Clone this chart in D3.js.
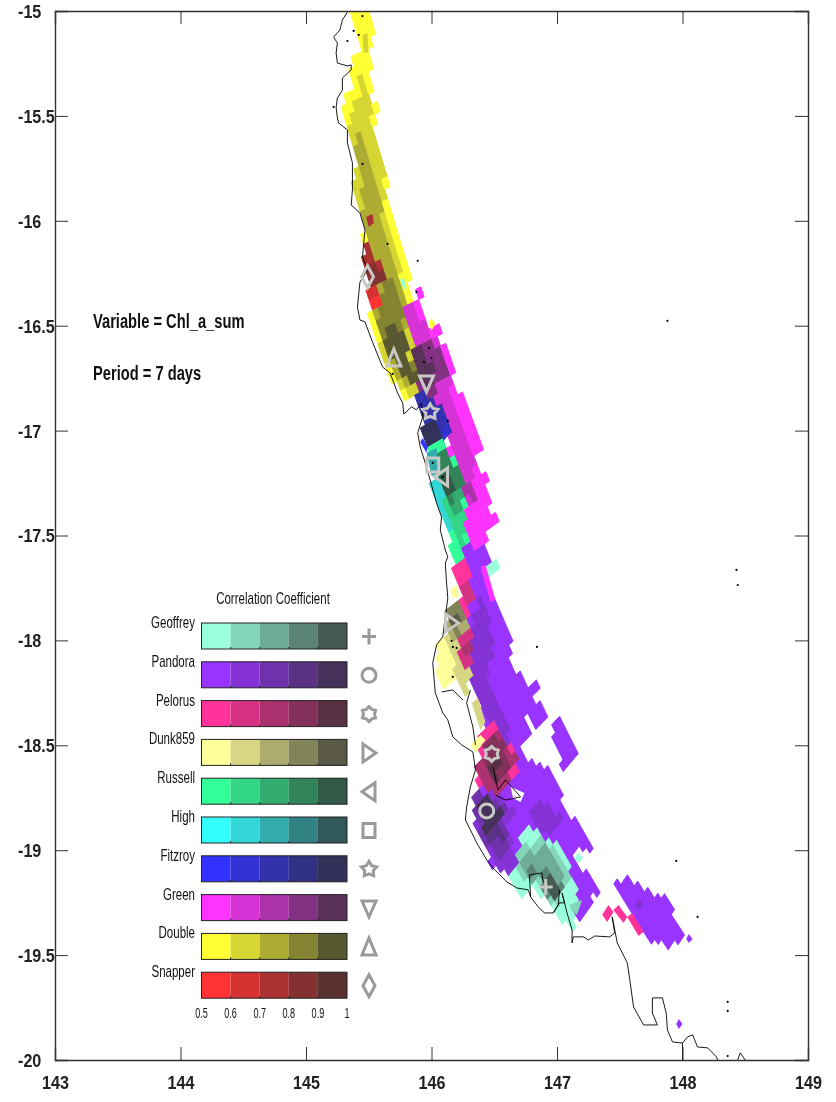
<!DOCTYPE html>
<html>
<head>
<meta charset="utf-8">
<style>
body { margin: 0; background: white; }
svg { display: block; filter: blur(0.35px); }
text { font-family: "Liberation Sans", Arial, sans-serif; fill: #111; }
</style>
<script src="https://d3js.org/d3.v7.min.js"></script>
</head>
<body>
<svg id="chart" width="836" height="1102"></svg>
<script>
var lonTicks = [143, 144, 145, 146, 147, 148, 149];
var latTicks = [-15, -15.5, -16, -16.5, -17, -17.5, -18, -18.5, -19, -19.5, -20];
var corrTicks = [0.5, 0.6, 0.7, 0.8, 0.9, 1];
var corrBins = [0.55, 0.65, 0.75, 0.85, 0.95];
var stations = ["Geoffrey", "Pandora", "Pelorus", "Dunk859", "Russell", "High", "Fitzroy", "Green", "Double", "Snapper"];
var stationColors = ["#99ffdd", "#9933ff", "#ff3399", "#ffff99", "#33ff99", "#33ffff", "#3333ff", "#ff33ff", "#ffff33", "#ff3333"];
var stationSymbols = ["plus", "circle", "gear", "right", "left", "square", "star", "down", "up", "diamond"];
var stationLons = [146.91, 146.44, 146.48, 146.16, 146.08, 146.01, 145.99, 145.96, 145.70, 145.49];
var stationLats = [-19.175, -18.813, -18.541, -17.917, -17.221, -17.164, -16.911, -16.773, -16.654, -16.267];

// model grid: size of one cell in degrees, by latitude
var gridLats = [-15, -16, -17, -18, -18.6, -19.2, -20];
var acrossLon = [0.0438, 0.0438, 0.0398, 0.0335, 0.0279, 0.0259, 0.0259];
var acrossLat = [0.0119, 0.0119, 0.0143, 0.0191, 0.0229, 0.0238, 0.0238];
var alongLon = [0.0239, 0.0239, 0.0279, 0.0279, 0.0263, 0.0259, 0.0259];
var alongLat = [-0.0477, -0.0477, -0.0453, -0.0381, -0.0286, -0.0238, -0.0238];

// each patch is [correlation, [[lon, lat], ...]], lowest correlation first
// patches of more than 4 points are snapped to the model grid
var doublePatches = [
  [0.55, [[145.37,-14.95],[145.49,-14.95],[145.54,-15.172],[145.49,-15.196],[145.53,-15.281],[145.49,-15.305],[145.53,-15.377],[145.49,-15.400],[145.51,-15.438],[145.55,-15.434],[145.58,-15.510],[145.53,-15.529],[145.57,-15.615],[145.58,-15.620],[145.63,-15.724],[145.61,-15.743],[145.68,-15.843],[145.63,-15.867],[145.67,-15.910],[145.84,-16.281],[145.80,-16.319],[145.85,-16.391],[145.81,-16.415],[145.91,-16.816],[145.81,-16.863],[145.75,-16.821],[145.61,-16.678],[145.51,-16.473],[145.47,-16.186],[145.45,-15.901],[145.37,-15.758],[145.41,-15.696],[145.35,-15.553],[145.31,-15.472],[145.36,-15.453],[145.33,-15.410],[145.39,-15.391],[145.34,-15.295],[145.38,-15.272],[145.37,-15.234],[145.45,-15.200],[145.40,-15.091]]],
  [0.65, [[145.45,-15.114],[145.49,-15.105],[145.50,-15.196],[145.46,-15.200]]],
  [0.65, [[145.41,-15.329],[145.45,-15.315],[145.50,-15.424],[145.53,-15.529],[145.57,-15.624],[145.60,-15.710],[145.63,-15.724],[145.61,-15.758],[145.65,-15.863],[145.61,-15.910],[145.65,-15.972],[145.76,-16.220],[145.70,-16.258],[145.79,-16.353],[145.83,-16.520],[145.87,-16.601],[145.84,-16.639],[145.94,-16.782],[145.86,-16.844],[145.81,-16.825],[145.71,-16.744],[145.65,-16.687],[145.56,-16.520],[145.54,-16.473],[145.53,-16.281],[145.49,-16.091],[145.44,-15.982],[145.37,-15.758],[145.41,-15.696],[145.35,-15.553],[145.37,-15.496],[145.40,-15.434],[145.45,-15.424]]],
  [0.75, [[145.41,-15.581],[145.45,-15.572],[145.50,-15.686],[145.57,-15.705],[145.53,-15.724],[145.56,-15.791],[145.61,-15.910],[145.63,-15.948],[145.59,-15.981],[145.72,-16.220],[145.73,-16.281],[145.79,-16.391],[145.81,-16.534],[145.84,-16.606],[145.81,-16.630],[145.87,-16.773],[145.81,-16.792],[145.73,-16.744],[145.67,-16.630],[145.61,-16.534],[145.56,-16.434],[145.53,-16.377],[145.47,-16.058],[145.44,-15.891],[145.45,-15.839],[145.42,-15.743],[145.40,-15.696]]],
  [0.85, [[145.61,-16.329],[145.67,-16.272],[145.71,-16.329],[145.79,-16.462],[145.75,-16.505],[145.78,-16.543],[145.81,-16.630],[145.91,-16.759],[145.85,-16.783],[145.81,-16.759],[145.75,-16.725],[145.67,-16.649],[145.61,-16.558],[145.56,-16.411],[145.57,-16.368]]],
  [0.95, [[145.63,-16.558],[145.69,-16.486],[145.79,-16.534],[145.84,-16.615],[145.81,-16.649],[145.91,-16.759],[145.87,-16.783],[145.81,-16.744],[145.73,-16.711],[145.67,-16.630]]]
];
var snapperPatches = [
  [0.55, [[145.50,-16.329],[145.56,-16.329],[145.60,-16.415],[145.55,-16.444],[145.51,-16.377]]],
  [0.65, [[145.49,-16.272],[145.59,-16.305],[145.61,-16.353],[145.55,-16.386],[145.51,-16.353]]],
  [0.75, [[145.48,-15.981],[145.53,-15.967],[145.54,-16.010],[145.50,-16.029]]],
  [0.75, [[145.48,-16.081],[145.51,-16.077],[145.55,-16.153],[145.64,-16.281],[145.57,-16.315],[145.49,-16.305],[145.45,-16.172]]],
  [0.85, [[145.49,-16.200],[145.53,-16.186],[145.63,-16.272],[145.59,-16.320],[145.51,-16.320]]]
];
var greenPatches = [
  [0.55, [[145.91,-16.315],[145.93,-16.339],[145.91,-16.377],[145.97,-16.482],[146.00,-16.520],[146.07,-16.505],[146.09,-16.534],[146.07,-16.558],[146.09,-16.601],[146.13,-16.587],[146.18,-16.697],[146.15,-16.720],[146.20,-16.840],[146.25,-16.821],[146.40,-17.102],[146.36,-17.130],[146.39,-17.188],[146.45,-17.197],[146.47,-17.226],[146.44,-17.250],[146.47,-17.321],[146.44,-17.345],[146.47,-17.388],[146.52,-17.412],[146.44,-17.488],[146.45,-17.545],[146.31,-17.578],[146.25,-17.412],[146.12,-17.030],[145.99,-16.830],[145.91,-16.792],[145.84,-16.649],[145.87,-16.592],[145.81,-16.506],[145.76,-16.434],[145.84,-16.391]]],
  [0.65, [[145.77,-16.411],[145.84,-16.386],[145.92,-16.458],[145.99,-16.558],[146.08,-16.591],[146.13,-16.697],[146.18,-16.844],[146.20,-16.868],[146.28,-17.030],[146.33,-17.140],[146.36,-17.330],[146.32,-17.354],[146.23,-17.249],[146.19,-17.125],[146.12,-17.030],[146.03,-16.854],[145.87,-16.592],[145.81,-16.506]]],
  [0.75, [[145.84,-16.592],[145.91,-16.582],[145.95,-16.625],[145.90,-16.640],[145.86,-16.654]]],
  [0.75, [[146.23,-17.235],[146.35,-17.269],[146.36,-17.330],[146.34,-17.342],[146.32,-17.354]]],
  [0.85, [[145.91,-16.591],[145.97,-16.568],[146.07,-16.591],[146.12,-16.673],[146.15,-16.711],[146.07,-16.768],[145.99,-16.844],[145.91,-16.797],[145.86,-16.673]]],
  [0.95, [[145.84,-16.639],[145.93,-16.615],[146.03,-16.697],[146.00,-16.759],[145.95,-16.797],[145.91,-16.783]]]
];
var fitzroyPatches = [
  [0.55, [[145.91,-17.054],[145.93,-17.035],[145.97,-17.078],[145.96,-17.106]]],
  [0.75, [[145.88,-16.816],[145.92,-16.792],[145.99,-16.844],[146.07,-16.887],[146.15,-17.011],[146.03,-17.092],[145.97,-17.059],[145.93,-17.011],[145.95,-16.982],[145.93,-16.916],[145.89,-16.863]]],
  [0.65, [[146.09,-16.916],[146.15,-17.011],[146.09,-17.054],[146.11,-16.968]]],
  [0.95, [[145.93,-17.011],[145.99,-16.949],[146.07,-16.963],[146.10,-17.030],[146.01,-17.059],[145.96,-17.054]]]
];
var russellPatches = [
  [0.55, [[145.97,-17.078],[146.12,-17.054],[146.16,-17.125],[146.21,-17.106],[146.29,-17.364],[146.26,-17.392],[146.31,-17.545],[146.19,-17.626],[146.16,-17.545],[146.17,-17.488],[146.07,-17.316],[146.04,-17.221]]],
  [0.65, [[146.09,-17.330],[146.24,-17.330],[146.27,-17.440],[146.24,-17.554],[146.17,-17.483]]],
  [0.75, [[146.12,-17.345],[146.24,-17.283],[146.27,-17.378],[146.20,-17.440],[146.16,-17.378]]],
  [0.85, [[146.04,-17.116],[146.12,-17.059],[146.17,-17.140],[146.25,-17.235],[146.22,-17.283],[146.15,-17.345],[146.07,-17.250],[146.04,-17.188]]],
  [0.95, [[146.08,-17.188],[146.15,-17.202],[146.19,-17.269],[146.12,-17.316],[146.07,-17.235]]]
];
var highPatches = [
  [0.65, [[146.00,-17.216],[146.06,-17.207],[146.17,-17.488],[146.15,-17.507],[146.05,-17.354],[146.00,-17.250]]],
  [0.75, [[145.96,-17.106],[146.04,-17.083],[146.06,-17.207],[146.00,-17.216]]]
];
var pandoraPatches = [
  [0.55, [[146.27,-17.545],[146.31,-17.536],[146.45,-17.583],[146.46,-17.617],[146.39,-17.650],[146.51,-17.807],[146.66,-18.060],[146.62,-18.079],[146.67,-18.165],[146.72,-18.150],[146.77,-18.236],[146.84,-18.188],[146.89,-18.212],[146.80,-18.270],[146.82,-18.298],[146.88,-18.298],[146.92,-18.379],[146.84,-18.427],[146.78,-18.341],[146.73,-18.379],[146.77,-18.436],[146.71,-18.508],[146.74,-18.555],[146.85,-18.584],[147.00,-18.651],[147.05,-18.713],[147.01,-18.746],[147.09,-18.856],[147.16,-18.841],[147.29,-18.984],[147.24,-19.013],[147.18,-18.984],[147.14,-19.037],[147.18,-19.080],[147.28,-19.127],[147.35,-19.189],[147.30,-19.223],[147.28,-19.204],[147.25,-19.223],[147.29,-19.261],[147.17,-19.356],[147.10,-19.275],[147.02,-19.189],[146.82,-19.180],[146.77,-19.175],[146.63,-19.127],[146.57,-19.108],[146.49,-19.080],[146.43,-18.999],[146.35,-18.903],[146.35,-18.870],[146.32,-18.751],[146.43,-18.698],[146.44,-18.417],[146.36,-18.284],[146.33,-18.236],[146.28,-18.188],[146.29,-18.107],[146.30,-17.807],[146.27,-17.617]]],
  [0.55, [[146.96,-18.417],[147.05,-18.370],[147.16,-18.522],[147.10,-18.565],[147.05,-18.603]]],
  [0.55, [[147.45,-19.156],[147.49,-19.132],[147.54,-19.156],[147.56,-19.132],[147.61,-19.165],[147.64,-19.142],[147.70,-19.189],[147.73,-19.175],[147.78,-19.223],[147.80,-19.204],[147.84,-19.237],[147.88,-19.213],[147.94,-19.275],[147.90,-19.299],[148.00,-19.394],[147.98,-19.442],[147.96,-19.428],[147.90,-19.466],[147.84,-19.442],[147.78,-19.428],[147.76,-19.437],[147.69,-19.380],[147.58,-19.299]]],
  [0.55, [[148.03,-19.423],[148.05,-19.399],[148.08,-19.423],[148.05,-19.442]]],
  [0.55, [[147.95,-19.828],[147.97,-19.804],[148.00,-19.828],[147.97,-19.852]]],
  [0.65, [[147.62,-19.261],[147.65,-19.232],[147.69,-19.261],[147.65,-19.285]]],
  [0.65, [[146.32,-17.866],[146.40,-17.807],[146.51,-17.983],[146.48,-18.093],[146.45,-18.179],[146.59,-18.389],[146.68,-18.555],[146.63,-18.594],[146.47,-18.427],[146.37,-18.284],[146.31,-18.188],[146.32,-18.045]]],
  [0.65, [[146.80,-18.822],[146.86,-18.746],[147.04,-18.841],[147.02,-18.903],[146.94,-18.927],[146.88,-18.913]]],
  [0.65, [[146.32,-18.751],[146.39,-18.713],[146.57,-18.746],[146.69,-18.832],[146.60,-18.856],[146.68,-19.032],[146.71,-19.061],[146.64,-19.108],[146.57,-19.094],[146.49,-19.061],[146.35,-18.870]]],
  [0.75, [[146.33,-18.775],[146.39,-18.727],[146.53,-18.760],[146.64,-18.818],[146.57,-18.870],[146.65,-19.008],[146.57,-19.032],[146.44,-18.984],[146.40,-18.937]]],
  [0.85, [[146.41,-18.903],[146.52,-18.870],[146.59,-18.937],[146.54,-18.956],[146.49,-18.975]]],
  [0.95, [[146.36,-18.775],[146.41,-18.737],[146.49,-18.760],[146.59,-18.832],[146.52,-18.903],[146.43,-18.903]]]
];
var dunkPatches = [
  [0.55, [[146.15,-17.760],[146.20,-17.736],[146.22,-17.793],[146.17,-17.798]]],
  [0.55, [[146.07,-17.998],[146.12,-17.983],[146.16,-18.045],[146.20,-18.126],[146.21,-18.188],[146.16,-18.179],[146.09,-18.227],[146.05,-18.141]]],
  [0.55, [[146.31,-18.498],[146.39,-18.451],[146.43,-18.475],[146.35,-18.536]]],
  [0.65, [[146.12,-17.988],[146.20,-17.998],[146.24,-18.079],[146.31,-18.131],[146.31,-18.174],[146.27,-18.203],[146.33,-18.236],[146.25,-18.270],[146.21,-18.188],[146.17,-18.107]]],
  [0.65, [[146.32,-18.298],[146.37,-18.274],[146.43,-18.389],[146.39,-18.427]]],
  [0.75, [[146.13,-17.841],[146.20,-17.783],[146.30,-17.955],[146.24,-17.988],[146.17,-17.998],[146.13,-17.950]]],
  [0.85, [[146.14,-17.864],[146.21,-17.817],[146.27,-17.902],[146.21,-17.983],[146.16,-17.964]]],
  [0.95, [[146.16,-17.855],[146.21,-17.869],[146.24,-17.912],[146.19,-17.950],[146.15,-17.926]]]
];
var pelorusPatches = [
  [0.55, [[146.20,-17.631],[146.29,-17.593],[146.35,-17.793],[146.31,-17.821],[146.32,-17.893],[146.29,-17.902],[146.21,-17.745],[146.18,-17.688]]],
  [0.65, [[146.24,-17.745],[146.29,-17.726],[146.34,-17.793],[146.31,-17.831],[146.29,-17.807]]],
  [0.65, [[146.24,-17.990],[146.32,-17.959],[146.35,-18.045],[146.31,-18.079],[146.33,-18.122],[146.28,-18.127],[146.24,-18.103],[146.20,-18.069]]],
  [0.75, [[146.26,-18.000],[146.32,-17.969],[146.35,-18.026],[146.28,-18.065],[146.24,-18.026]]],
  [0.55, [[146.40,-18.427],[146.48,-18.393],[146.55,-18.413],[146.59,-18.460],[146.69,-18.570],[146.67,-18.656],[146.56,-18.746],[146.47,-18.727],[146.35,-18.703],[146.35,-18.641],[146.37,-18.570],[146.40,-18.522]]],
  [0.75, [[146.37,-18.603],[146.48,-18.451],[146.55,-18.427],[146.69,-18.570],[146.65,-18.617],[146.56,-18.727],[146.44,-18.727],[146.39,-18.689]]],
  [0.85, [[146.41,-18.489],[146.55,-18.460],[146.64,-18.594],[146.56,-18.679],[146.51,-18.665],[146.41,-18.594]]],
  [0.95, [[146.43,-18.584],[146.51,-18.536],[146.57,-18.603],[146.54,-18.640],[146.52,-18.665]]],
  [0.55, [[147.36,-19.308],[147.41,-19.261],[147.45,-19.294],[147.40,-19.342]]],
  [0.55, [[147.45,-19.285],[147.49,-19.261],[147.56,-19.318],[147.53,-19.347]]],
  [0.55, [[147.56,-19.318],[147.60,-19.299],[147.69,-19.389],[147.65,-19.409]]]
];
var geoffreyPatches = [
  [0.55, [[146.48,-17.640],[146.51,-17.593],[146.55,-17.650],[146.47,-17.712],[146.43,-17.679]]],
  [0.55, [[145.75,-16.281],[145.78,-16.272],[145.80,-16.319],[145.78,-16.329]]],
  [0.55, [[146.68,-18.937],[146.77,-18.870],[146.86,-18.927],[146.96,-18.975],[147.00,-18.965],[147.12,-19.094],[147.10,-19.127],[147.20,-19.237],[147.12,-19.318],[147.18,-19.356],[147.14,-19.389],[147.10,-19.347],[147.00,-19.318],[146.97,-19.275],[146.88,-19.223],[146.80,-19.156],[146.71,-19.213],[146.63,-19.127],[146.68,-19.080],[146.67,-19.023],[146.72,-18.989]]],
  [0.55, [[147.14,-19.037],[147.17,-19.013],[147.21,-19.037],[147.17,-19.061]]],
  [0.65, [[146.69,-19.008],[146.76,-18.951],[146.82,-18.989],[146.88,-18.937],[146.96,-18.984],[147.02,-19.046],[147.12,-19.127],[147.06,-19.180],[147.01,-19.261],[146.97,-19.261],[146.86,-19.189],[146.78,-19.118],[146.72,-19.142],[146.67,-19.085]]],
  [0.65, [[147.10,-19.261],[147.20,-19.237],[147.16,-19.308],[147.12,-19.294]]],
  [0.75, [[146.68,-19.070],[146.77,-19.008],[146.82,-19.023],[146.88,-18.975],[146.96,-19.008],[147.06,-19.127],[147.01,-19.175],[146.90,-19.118],[146.82,-19.165],[146.75,-19.094]]],
  [0.85, [[146.76,-19.094],[146.80,-19.061],[146.84,-19.108],[146.78,-19.142]]],
  [0.85, [[146.88,-19.127],[146.94,-19.085],[147.05,-19.180],[147.00,-19.261],[146.88,-19.203]]],
  [0.95, [[146.90,-19.142],[146.96,-19.127],[147.04,-19.180],[146.98,-19.251],[146.93,-19.213]]]
];
var lateGreenPatches = [
  [0.55, [[146.39,-17.650],[146.43,-17.640],[146.51,-17.807],[146.47,-17.817]]]
];
var lateDoublePatches = [
  [0.55, [[145.98,-16.486],[146.00,-16.463],[146.03,-16.491],[146.00,-16.525]]]
];
var noDataPatch = [[146.63,-18.698],[146.74,-18.727],[146.71,-18.770],[146.65,-18.751]];

var coastLines = [
  [[145.33,-15.005],[145.29,-15.043],[145.27,-15.091],[145.22,-15.124],[145.25,-15.153],[145.24,-15.200],[145.25,-15.248],[145.33,-15.262],[145.36,-15.257],[145.36,-15.281],[145.29,-15.319],[145.29,-15.377],[145.25,-15.415],[145.24,-15.458],[145.25,-15.510],[145.26,-15.534],[145.33,-15.567],[145.33,-15.629],[145.37,-15.724],[145.37,-15.820],[145.37,-15.853],[145.36,-15.925],[145.43,-15.963],[145.47,-16.043],[145.45,-16.172],[145.49,-16.234],[145.43,-16.292],[145.41,-16.411],[145.43,-16.473],[145.47,-16.482],[145.53,-16.578],[145.61,-16.697],[145.67,-16.725],[145.73,-16.821],[145.77,-16.868],[145.78,-16.921],[145.84,-16.887],[145.88,-16.901],[145.92,-16.868],[145.93,-16.935],[145.89,-17.011],[145.91,-17.078],[145.96,-17.173],[146.04,-17.345],[146.08,-17.412],[146.07,-17.474],[146.11,-17.569],[146.13,-17.602],[146.11,-17.631],[146.12,-17.726],[146.13,-17.798],[146.11,-17.888],[146.09,-17.983],[146.04,-18.022],[146.01,-18.107],[146.03,-18.250],[146.09,-18.346],[146.13,-18.379],[146.17,-18.460],[146.24,-18.498],[146.33,-18.532],[146.35,-18.617],[146.31,-18.698],[146.28,-18.794],[146.27,-18.856],[146.31,-18.903],[146.36,-18.965],[146.44,-19.046],[146.49,-19.085],[146.60,-19.151],[146.68,-19.180],[146.77,-19.189],[146.79,-19.223],[146.85,-19.270],[146.90,-19.299],[146.97,-19.299],[147.02,-19.251],[147.06,-19.251],[147.04,-19.204],[147.08,-19.299],[147.12,-19.380],[147.12,-19.442],[147.13,-19.413],[147.21,-19.413],[147.25,-19.428],[147.30,-19.409],[147.42,-19.413],[147.46,-19.394],[147.44,-19.318],[147.48,-19.442],[147.56,-19.537],[147.58,-19.618],[147.61,-19.747],[147.69,-19.833],[147.80,-19.833],[147.76,-19.776],[147.76,-19.704],[147.84,-19.704],[147.87,-19.776],[147.88,-19.857],[147.92,-19.914],[148.00,-19.919],[148.04,-19.890],[148.08,-19.880],[148.12,-19.938],[148.20,-19.942],[148.27,-19.985],[148.28,-20]],
  [[148.00,-19.919],[148.00,-20]],
  [[148.44,-20],[148.46,-19.966],[148.50,-20]],
  [[146.08,-18.246],[146.17,-18.236],[146.25,-18.284]],
  [[146.31,-18.236],[146.28,-18.298],[146.33,-18.413],[146.35,-18.498]],
  [[146.49,-18.603],[146.53,-18.713],[146.59,-18.665],[146.71,-18.746],[146.59,-18.761],[146.51,-18.737]],
  [[146.79,-19.223],[146.78,-19.118],[146.88,-19.108],[146.89,-19.156]],
  [[147.02,-19.189],[147.01,-19.261],[146.97,-19.299]]
];
var islandLons = [145.45,145.38,145.42,145.33,145.22,145.45,145.65,145.89,145.88,145.98,145.94,146.00,145.69,146.13,146.01,146.09,147.88,148.43,148.44,147.95,148.12,148.36,148.36,148.36,146.84,146.16,146.17,146.20,146.17];
var islandLats = [-15.024,-15.095,-15.114,-15.143,-15.458,-15.729,-16.110,-16.191,-16.339,-16.606,-16.673,-16.654,-16.730,-16.954,-17.154,-17.221,-16.477,-17.664,-17.736,-19.051,-19.318,-19.723,-19.766,-19.981,-18.031,-18.002,-18.031,-18.036,-18.174];

var infoLines = ["Variable = Chl_a_sum", "Period = 7 days"];

var svg = d3.select("#chart");
var x = d3.scaleLinear().domain([143, 149]).range([55, 808]);
var y = d3.scaleLinear().domain([-15, -20]).range([11, 1060]);
var line = d3.line().x(function(d) { return x(d[0]); }).y(function(d) { return y(d[1]); });
var level = d3.scaleQuantize().domain([0.5, 1]).range([0, 1, 2, 3, 4]);

function shade(base, r) {
    return d3.interpolateRgb(base, "#303030")(level(r) * 0.2);
}

svg.append("clipPath").attr("id", "mapclip").append("rect")
    .attr("x", 55).attr("y", 11).attr("width", 753).attr("height", 1049);
var map = svg.append("g").attr("clip-path", "url(#mapclip)");

var layers = [["Double", doublePatches], ["Snapper", snapperPatches], ["Green", greenPatches],
              ["Double", lateDoublePatches], ["Fitzroy", fitzroyPatches], ["Russell", russellPatches],
              ["High", highPatches], ["Pandora", pandoraPatches], ["Green", lateGreenPatches],
              ["Dunk859", dunkPatches], ["Pelorus", pelorusPatches], ["Geoffrey", geoffreyPatches]];

// lattice of grid cells, walking down a spine along the shelf
var cellScale = function(vals) { return d3.scaleLinear().domain(gridLats).range(vals).clamp(true); };
var aLon = cellScale(acrossLon), aLat = cellScale(acrossLat);
var bLon = cellScale(alongLon), bLat = cellScale(alongLat);
var cells = [];
(function() {
    var s = [145.30, -14.8], rows = [];
    while (s[1] > -20.4) {
        var row = [];
        for (var j = -60; j <= 80; j++) {
            row.push([s[0] + j * aLon(s[1]), s[1] + j * aLat(s[1])]);
        }
        rows.push(row);
        s = [s[0] + bLon(s[1]), s[1] + bLat(s[1])];
    }
    for (var i = 0; i < rows.length - 1; i++) {
        for (var k = 0; k < rows[i].length - 1; k++) {
            var q = [rows[i][k], rows[i][k + 1], rows[i + 1][k + 1], rows[i + 1][k]];
            cells.push({quad: q, mid: [d3.mean(q, function(p) { return p[0]; }), d3.mean(q, function(p) { return p[1]; })], fill: null});
        }
    }
})();

var directPatches = [];
layers.forEach(function(l) {
    var base = stationColors[stations.indexOf(l[0])];
    l[1].forEach(function(p) {
        if (p[1].length <= 4) {
            directPatches.push({pts: p[1], fill: shade(base, p[0])});
            return;
        }
        cells.forEach(function(c) {
            if (d3.polygonContains(p[1], c.mid)) c.fill = shade(base, p[0]);
        });
    });
});

map.append("g").selectAll("path")
    .data(cells.filter(function(c) { return c.fill; })).enter().append("path")
    .attr("d", function(d) { return line(d.quad) + "Z"; })
    .attr("fill", function(d) { return d.fill; })
    .attr("stroke", function(d) { return d.fill; })
    .attr("stroke-width", 1);
map.append("g").selectAll("path").data(directPatches).enter().append("path")
    .attr("d", function(d) { return line(d.pts) + "Z"; })
    .attr("fill", function(d) { return d.fill; });
map.append("path").attr("d", line(noDataPatch) + "Z").attr("fill", "white");

map.append("g").selectAll("path").data(coastLines).enter().append("path")
    .attr("d", line).attr("fill", "none").attr("stroke", "#000").attr("stroke-width", 0.9);
map.append("g").selectAll("circle").data(islandLons).enter().append("circle")
    .attr("cx", function(d) { return x(d); })
    .attr("cy", function(d, i) { return y(islandLats[i]); })
    .attr("r", 1.1).attr("fill", "#000");

// outline markers, also used in the legend
function marker(g, kind, color) {
    var s = g.append("path").attr("fill", "none").attr("stroke", color).attr("stroke-width", 3);
    var star = function(n, r1, r2) {
        var pts = [];
        for (var i = 0; i < n * 2; i++) {
            var a = Math.PI * i / n - Math.PI / 2, r = i % 2 ? r2 : r1;
            pts.push([r * Math.cos(a), r * Math.sin(a)]);
        }
        return d3.line()(pts) + "Z";
    };
    var d = {
        plus: "M-7,0H7M0,-8V8",
        circle: d3.arc()({innerRadius: 7, outerRadius: 7, startAngle: 0, endAngle: 2 * Math.PI}),
        gear: star(6, 7.5, 5.5),
        right: "M-6,-9L7,0L-6,9Z",
        left: "M6,-9L-7,0L6,9Z",
        square: "M-6,-7H6V7H-6Z",
        star: star(5, 8, 4.5),
        down: "M-7,-7H7L0,9Z",
        up: "M-7,8H7L0,-9Z",
        diamond: "M0,-11L6,0L0,11L-6,0Z"
    };
    s.attr("d", d[kind]);
}
stations.forEach(function(name, i) {
    marker(map.append("g").attr("transform", "translate(" + x(stationLons[i]) + "," + y(stationLats[i]) + ")"),
           stationSymbols[i], "#c8c8c4");
});

// frame and ticks
var xBottom = d3.axisBottom(x).tickValues(lonTicks).tickSize(-13).tickFormat(d3.format("d"));
var xTop = d3.axisTop(x).tickValues(lonTicks).tickSize(-13).tickFormat("");
var yLeft = d3.axisLeft(y).tickValues(latTicks).tickSize(-13).tickFormat(function(d) { return d; });
var yRight = d3.axisRight(y).tickValues(latTicks).tickSize(-13).tickFormat("");
var gBottom = svg.append("g").attr("transform", "translate(0,1060)").call(xBottom);
svg.append("g").attr("transform", "translate(0,11)").call(xTop);
var gLeft = svg.append("g").attr("transform", "translate(55,0)").call(yLeft);
svg.append("g").attr("transform", "translate(808,0)").call(yRight);
svg.selectAll(".domain").attr("stroke", "#333").attr("stroke-width", 1.4);
svg.selectAll(".tick line").attr("stroke", "#333").attr("stroke-width", 1);
gBottom.selectAll("text").attr("y", 0).attr("dy", 0)
    .attr("transform", "translate(0,29) scale(.85,1)")
    .style("font-size", "19px").style("font-family", "Liberation Sans").style("font-weight", "bold").style("fill", "#222");
gLeft.selectAll("text").attr("x", 0).attr("dy", "0.34em").attr("text-anchor", "start")
    .attr("transform", "translate(-37,0) scale(.85,1)")
    .style("font-size", "19px").style("font-family", "Liberation Sans").style("font-weight", "bold").style("fill", "#222");

// annotation
svg.selectAll(".info").data(infoLines).enter().append("text")
    .attr("class", "info")
    .attr("transform", function(d, i) { return "translate(93," + (328 + i * 52) + ") scale(.7,1)"; })
    .style("font-size", "21px").style("font-weight", "bold").text(function(d) { return d; });

// legend
var legX = d3.scaleLinear().domain([0.5, 1]).range([201.5, 347]);
svg.append("text").attr("transform", "translate(273,604) scale(.72,1)")
    .attr("text-anchor", "middle").style("font-size", "16px").text("Correlation Coefficient");
stations.forEach(function(name, i) {
    var row = svg.append("g");
    var top = 623 + i * 38.8;
    row.selectAll("rect").data(corrBins).enter().append("rect")
        .attr("x", function(d) { return legX(d - 0.05); })
        .attr("y", top)
        .attr("width", legX(0.6) - legX(0.5))
        .attr("height", 26)
        .attr("fill", function(d) { return shade(stationColors[i], d); });
    row.append("rect").attr("x", legX(0.5)).attr("y", top).attr("width", legX(1) - legX(0.5)).attr("height", 26)
        .attr("fill", "none").attr("stroke", "#222").attr("stroke-width", 1);
    row.selectAll("line").data(corrTicks.slice(1, 5)).enter().append("line")
        .attr("x1", function(d) { return legX(d); }).attr("x2", function(d) { return legX(d); })
        .attr("y1", top + 24).attr("y2", top + 26).attr("stroke", "#222");
    row.append("text").attr("transform", "translate(195," + (top + 5) + ") scale(.72,1)")
        .attr("text-anchor", "end").style("font-size", "16px").text(name);
    marker(row.append("g").attr("transform", "translate(369," + (top + 13.5) + ")"), stationSymbols[i], "#9a9a9a");
});
svg.append("g").selectAll("text").data(corrTicks).enter().append("text")
    .attr("transform", function(d) { return "translate(" + legX(d) + ",1018) scale(.65,1)"; })
    .attr("text-anchor", "middle").style("font-size", "14px").text(function(d) { return d; });
</script>
</body>
</html>
